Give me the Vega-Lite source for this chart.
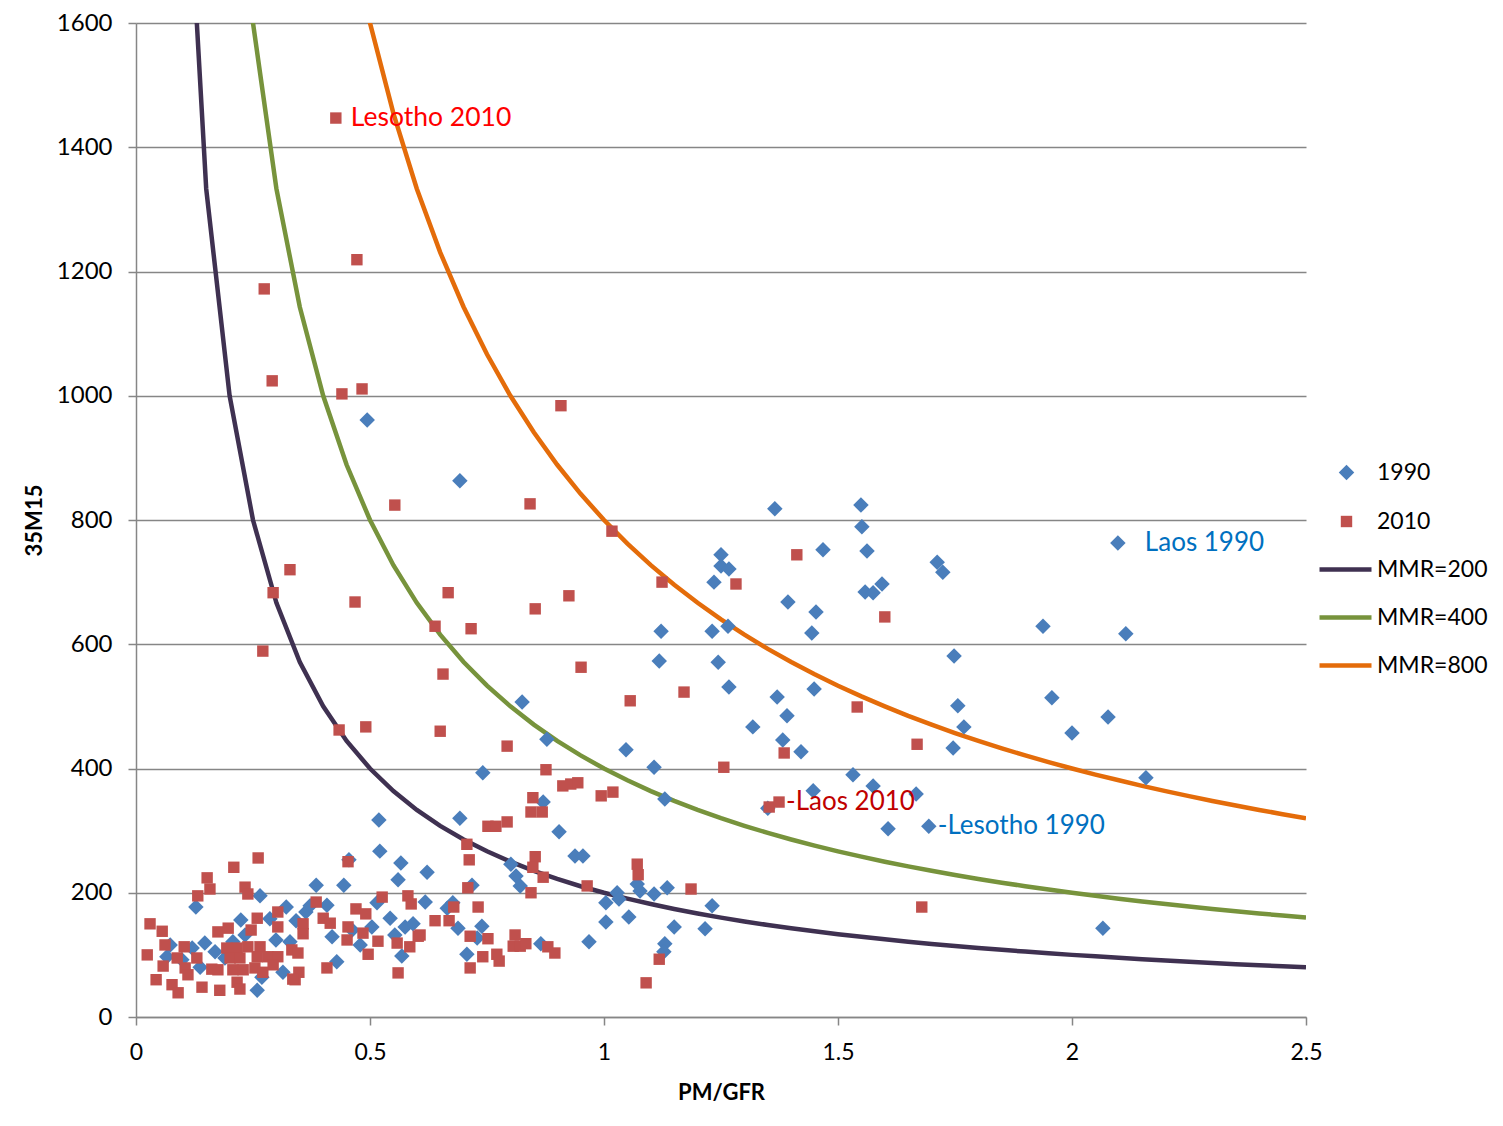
{
  "$schema": "https://vega.github.io/schema/vega-lite/v6.json",
  "width": 1170,
  "height": 994,
  "autosize": {"type": "none"},
  "padding": {"left": 136, "top": 23, "right": 197, "bottom": 109},
  "background": "white",
  "config": {
    "font": "Lato",
    "view": {"stroke": null},
    "axis": {"labelColor": "#000000", "labelFont": "Lato", "titleFont": "Lato", "titleColor": "#000000"}
  },
  "datasets": {
    "pts": [
      {"x":0.494,"y":961,"s":"1990"},{"x":0.692,"y":863,"s":"1990"},{"x":0.825,"y":507,"s":"1990"},{"x":0.878,"y":447,"s":"1990"},
      {"x":0.741,"y":393,"s":"1990"},{"x":0.692,"y":320,"s":"1990"},{"x":0.519,"y":317,"s":"1990"},{"x":0.870,"y":346,"s":"1990"},
      {"x":0.904,"y":298,"s":"1990"},{"x":0.938,"y":259,"s":"1990"},{"x":0.955,"y":259,"s":"1990"},{"x":0.521,"y":267,"s":"1990"},
      {"x":0.455,"y":253,"s":"1990"},{"x":0.566,"y":248,"s":"1990"},{"x":0.622,"y":233,"s":"1990"},{"x":0.385,"y":212,"s":"1990"},
      {"x":0.444,"y":212,"s":"1990"},{"x":0.718,"y":212,"s":"1990"},{"x":0.560,"y":221,"s":"1990"},{"x":0.801,"y":246,"s":"1990"},
      {"x":0.812,"y":227,"s":"1990"},{"x":0.821,"y":211,"s":"1990"},{"x":0.618,"y":185,"s":"1990"},{"x":0.665,"y":175,"s":"1990"},
      {"x":0.677,"y":184,"s":"1990"},{"x":0.688,"y":143,"s":"1990"},{"x":0.739,"y":146,"s":"1990"},{"x":0.707,"y":101,"s":"1990"},
      {"x":0.729,"y":127,"s":"1990"},{"x":0.865,"y":118,"s":"1990"},{"x":0.968,"y":121,"s":"1990"},{"x":1.004,"y":184,"s":"1990"},
      {"x":1.028,"y":200,"s":"1990"},{"x":1.032,"y":190,"s":"1990"},{"x":1.004,"y":153,"s":"1990"},{"x":1.053,"y":161,"s":"1990"},
      {"x":1.071,"y":214,"s":"1990"},{"x":1.077,"y":203,"s":"1990"},{"x":1.107,"y":198,"s":"1990"},{"x":1.135,"y":208,"s":"1990"},
      {"x":1.130,"y":118,"s":"1990"},{"x":1.128,"y":105,"s":"1990"},{"x":1.150,"y":145,"s":"1990"},{"x":1.216,"y":142,"s":"1990"},
      {"x":1.231,"y":179,"s":"1990"},{"x":1.130,"y":351,"s":"1990"},{"x":1.365,"y":818,"s":"1990"},{"x":1.549,"y":824,"s":"1990"},
      {"x":1.551,"y":789,"s":"1990"},{"x":1.562,"y":750,"s":"1990"},{"x":1.468,"y":752,"s":"1990"},{"x":1.250,"y":744,"s":"1990"},
      {"x":1.250,"y":726,"s":"1990"},{"x":1.267,"y":721,"s":"1990"},{"x":1.235,"y":700,"s":"1990"},{"x":1.594,"y":697,"s":"1990"},
      {"x":1.558,"y":684,"s":"1990"},{"x":1.575,"y":683,"s":"1990"},{"x":1.393,"y":668,"s":"1990"},{"x":1.453,"y":652,"s":"1990"},
      {"x":1.444,"y":618,"s":"1990"},{"x":1.712,"y":732,"s":"1990"},{"x":1.724,"y":716,"s":"1990"},{"x":1.265,"y":629,"s":"1990"},
      {"x":1.231,"y":621,"s":"1990"},{"x":1.122,"y":621,"s":"1990"},{"x":1.118,"y":573,"s":"1990"},{"x":1.244,"y":571,"s":"1990"},
      {"x":1.267,"y":531,"s":"1990"},{"x":1.449,"y":528,"s":"1990"},{"x":1.370,"y":515,"s":"1990"},{"x":1.391,"y":485,"s":"1990"},
      {"x":1.318,"y":467,"s":"1990"},{"x":1.382,"y":446,"s":"1990"},{"x":1.421,"y":427,"s":"1990"},{"x":1.047,"y":430,"s":"1990"},
      {"x":1.107,"y":402,"s":"1990"},{"x":1.748,"y":581,"s":"1990"},{"x":1.756,"y":501,"s":"1990"},{"x":1.746,"y":433,"s":"1990"},
      {"x":1.769,"y":467,"s":"1990"},{"x":1.532,"y":390,"s":"1990"},{"x":1.575,"y":372,"s":"1990"},{"x":1.447,"y":364,"s":"1990"},
      {"x":1.667,"y":359,"s":"1990"},{"x":1.350,"y":336,"s":"1990"},{"x":1.607,"y":303,"s":"1990"},{"x":1.694,"y":307,"s":"1990"},
      {"x":2.098,"y":763,"s":"1990"},{"x":1.938,"y":629,"s":"1990"},{"x":2.115,"y":617,"s":"1990"},{"x":1.957,"y":514,"s":"1990"},
      {"x":2.077,"y":483,"s":"1990"},{"x":2.000,"y":457,"s":"1990"},{"x":2.158,"y":385,"s":"1990"},{"x":2.066,"y":143,"s":"1990"},
      {"x":0.073,"y":116,"s":"1990"},{"x":0.128,"y":177,"s":"1990"},{"x":0.265,"y":195,"s":"1990"},{"x":0.321,"y":177,"s":"1990"},
      {"x":0.224,"y":156,"s":"1990"},{"x":0.286,"y":158,"s":"1990"},{"x":0.342,"y":155,"s":"1990"},{"x":0.363,"y":169,"s":"1990"},
      {"x":0.372,"y":179,"s":"1990"},{"x":0.408,"y":180,"s":"1990"},{"x":0.543,"y":159,"s":"1990"},{"x":0.515,"y":184,"s":"1990"},
      {"x":0.575,"y":145,"s":"1990"},{"x":0.592,"y":150,"s":"1990"},{"x":0.419,"y":129,"s":"1990"},{"x":0.504,"y":145,"s":"1990"},
      {"x":0.299,"y":124,"s":"1990"},{"x":0.329,"y":121,"s":"1990"},{"x":0.207,"y":121,"s":"1990"},{"x":0.147,"y":119,"s":"1990"},
      {"x":0.169,"y":105,"s":"1990"},{"x":0.120,"y":111,"s":"1990"},{"x":0.066,"y":97,"s":"1990"},{"x":0.137,"y":80,"s":"1990"},
      {"x":0.314,"y":72,"s":"1990"},{"x":0.269,"y":64,"s":"1990"},{"x":0.259,"y":43,"s":"1990"},{"x":0.429,"y":89,"s":"1990"},
      {"x":0.568,"y":98,"s":"1990"},{"x":0.098,"y":92,"s":"1990"},{"x":0.190,"y":95,"s":"1990"},{"x":0.233,"y":132,"s":"1990"},
      {"x":0.462,"y":140,"s":"1990"},{"x":0.479,"y":116,"s":"1990"},{"x":0.553,"y":132,"s":"1990"},

      {"x":0.427,"y":1447,"s":"2010"},{"x":0.472,"y":1219,"s":"2010"},{"x":0.274,"y":1172,"s":"2010"},{"x":0.291,"y":1024,"s":"2010"},
      {"x":0.440,"y":1003,"s":"2010"},{"x":0.483,"y":1011,"s":"2010"},{"x":0.908,"y":984,"s":"2010"},{"x":0.553,"y":824,"s":"2010"},
      {"x":0.842,"y":826,"s":"2010"},{"x":0.329,"y":720,"s":"2010"},{"x":0.293,"y":683,"s":"2010"},{"x":0.468,"y":668,"s":"2010"},
      {"x":0.667,"y":683,"s":"2010"},{"x":0.639,"y":629,"s":"2010"},{"x":0.716,"y":625,"s":"2010"},{"x":0.853,"y":657,"s":"2010"},
      {"x":0.925,"y":678,"s":"2010"},{"x":0.271,"y":589,"s":"2010"},{"x":0.656,"y":552,"s":"2010"},{"x":0.951,"y":563,"s":"2010"},
      {"x":1.017,"y":782,"s":"2010"},{"x":1.124,"y":700,"s":"2010"},{"x":1.282,"y":697,"s":"2010"},{"x":1.412,"y":744,"s":"2010"},
      {"x":1.600,"y":644,"s":"2010"},{"x":1.056,"y":509,"s":"2010"},{"x":1.171,"y":523,"s":"2010"},{"x":1.541,"y":499,"s":"2010"},
      {"x":1.669,"y":439,"s":"2010"},{"x":1.385,"y":425,"s":"2010"},{"x":1.256,"y":402,"s":"2010"},{"x":0.434,"y":462,"s":"2010"},
      {"x":0.491,"y":467,"s":"2010"},{"x":0.650,"y":460,"s":"2010"},{"x":0.793,"y":436,"s":"2010"},{"x":0.876,"y":398,"s":"2010"},
      {"x":0.912,"y":372,"s":"2010"},{"x":0.929,"y":375,"s":"2010"},{"x":0.944,"y":377,"s":"2010"},{"x":0.994,"y":356,"s":"2010"},
      {"x":1.019,"y":362,"s":"2010"},{"x":1.353,"y":338,"s":"2010"},{"x":1.374,"y":346,"s":"2010"},{"x":1.071,"y":246,"s":"2010"},
      {"x":1.073,"y":229,"s":"2010"},{"x":1.679,"y":177,"s":"2010"},{"x":0.848,"y":353,"s":"2010"},{"x":0.844,"y":330,"s":"2010"},
      {"x":0.868,"y":330,"s":"2010"},{"x":0.752,"y":307,"s":"2010"},{"x":0.769,"y":307,"s":"2010"},{"x":0.793,"y":314,"s":"2010"},
      {"x":0.707,"y":278,"s":"2010"},{"x":0.712,"y":253,"s":"2010"},{"x":0.853,"y":258,"s":"2010"},{"x":0.848,"y":241,"s":"2010"},
      {"x":0.870,"y":225,"s":"2010"},{"x":0.964,"y":211,"s":"2010"},{"x":0.709,"y":208,"s":"2010"},{"x":0.844,"y":200,"s":"2010"},
      {"x":1.186,"y":206,"s":"2010"},{"x":0.679,"y":177,"s":"2010"},{"x":0.731,"y":177,"s":"2010"},{"x":0.639,"y":155,"s":"2010"},
      {"x":0.669,"y":155,"s":"2010"},{"x":0.714,"y":130,"s":"2010"},{"x":0.752,"y":126,"s":"2010"},{"x":0.810,"y":132,"s":"2010"},
      {"x":0.806,"y":114,"s":"2010"},{"x":0.821,"y":114,"s":"2010"},{"x":0.833,"y":118,"s":"2010"},{"x":0.880,"y":113,"s":"2010"},
      {"x":0.895,"y":103,"s":"2010"},{"x":0.741,"y":97,"s":"2010"},{"x":0.771,"y":101,"s":"2010"},{"x":0.776,"y":90,"s":"2010"},
      {"x":0.714,"y":79,"s":"2010"},{"x":1.118,"y":93,"s":"2010"},{"x":1.090,"y":55,"s":"2010"},{"x":0.607,"y":132,"s":"2010"},
      {"x":0.261,"y":256,"s":"2010"},{"x":0.209,"y":241,"s":"2010"},{"x":0.152,"y":224,"s":"2010"},{"x":0.158,"y":206,"s":"2010"},
      {"x":0.132,"y":195,"s":"2010"},{"x":0.233,"y":209,"s":"2010"},{"x":0.239,"y":198,"s":"2010"},{"x":0.030,"y":150,"s":"2010"},
      {"x":0.056,"y":138,"s":"2010"},{"x":0.024,"y":100,"s":"2010"},{"x":0.385,"y":185,"s":"2010"},{"x":0.303,"y":169,"s":"2010"},
      {"x":0.259,"y":159,"s":"2010"},{"x":0.175,"y":137,"s":"2010"},{"x":0.197,"y":143,"s":"2010"},{"x":0.246,"y":140,"s":"2010"},
      {"x":0.303,"y":145,"s":"2010"},{"x":0.357,"y":150,"s":"2010"},{"x":0.357,"y":134,"s":"2010"},{"x":0.400,"y":159,"s":"2010"},
      {"x":0.415,"y":151,"s":"2010"},{"x":0.453,"y":250,"s":"2010"},{"x":0.526,"y":193,"s":"2010"},{"x":0.581,"y":195,"s":"2010"},
      {"x":0.588,"y":182,"s":"2010"},{"x":0.470,"y":174,"s":"2010"},{"x":0.491,"y":166,"s":"2010"},{"x":0.453,"y":145,"s":"2010"},
      {"x":0.485,"y":135,"s":"2010"},{"x":0.603,"y":130,"s":"2010"},{"x":0.451,"y":124,"s":"2010"},{"x":0.517,"y":122,"s":"2010"},
      {"x":0.558,"y":119,"s":"2010"},{"x":0.585,"y":113,"s":"2010"},{"x":0.496,"y":101,"s":"2010"},{"x":0.560,"y":71,"s":"2010"},
      {"x":0.408,"y":79,"s":"2010"},{"x":0.348,"y":72,"s":"2010"},{"x":0.340,"y":60,"s":"2010"},{"x":0.103,"y":113,"s":"2010"},
      {"x":0.088,"y":95,"s":"2010"},{"x":0.058,"y":82,"s":"2010"},{"x":0.043,"y":60,"s":"2010"},{"x":0.077,"y":52,"s":"2010"},
      {"x":0.090,"y":39,"s":"2010"},{"x":0.105,"y":79,"s":"2010"},{"x":0.130,"y":95,"s":"2010"},{"x":0.141,"y":48,"s":"2010"},
      {"x":0.162,"y":77,"s":"2010"},{"x":0.175,"y":76,"s":"2010"},{"x":0.179,"y":43,"s":"2010"},{"x":0.194,"y":111,"s":"2010"},
      {"x":0.216,"y":111,"s":"2010"},{"x":0.239,"y":113,"s":"2010"},{"x":0.265,"y":113,"s":"2010"},{"x":0.201,"y":95,"s":"2010"},
      {"x":0.222,"y":95,"s":"2010"},{"x":0.259,"y":97,"s":"2010"},{"x":0.282,"y":97,"s":"2010"},{"x":0.303,"y":97,"s":"2010"},
      {"x":0.207,"y":76,"s":"2010"},{"x":0.229,"y":76,"s":"2010"},{"x":0.254,"y":79,"s":"2010"},{"x":0.271,"y":72,"s":"2010"},
      {"x":0.293,"y":84,"s":"2010"},{"x":0.216,"y":56,"s":"2010"},{"x":0.222,"y":45,"s":"2010"},{"x":0.333,"y":108,"s":"2010"},
      {"x":0.346,"y":103,"s":"2010"},{"x":0.335,"y":61,"s":"2010"},{"x":0.062,"y":116,"s":"2010"},{"x":0.111,"y":68,"s":"2010"}
    ],
    "curves": [
      {"x":0.1,"y":2000,"c":"MMR=200"},{"x":0.15,"y":1333.3,"c":"MMR=200"},{"x":0.2,"y":1000,"c":"MMR=200"},{"x":0.25,"y":800,"c":"MMR=200"},
      {"x":0.3,"y":666.7,"c":"MMR=200"},{"x":0.35,"y":571.4,"c":"MMR=200"},{"x":0.4,"y":500,"c":"MMR=200"},{"x":0.45,"y":444.4,"c":"MMR=200"},
      {"x":0.5,"y":400,"c":"MMR=200"},{"x":0.55,"y":363.6,"c":"MMR=200"},{"x":0.6,"y":333.3,"c":"MMR=200"},{"x":0.65,"y":307.7,"c":"MMR=200"},
      {"x":0.7,"y":285.7,"c":"MMR=200"},{"x":0.75,"y":266.7,"c":"MMR=200"},{"x":0.8,"y":250,"c":"MMR=200"},{"x":0.85,"y":235.3,"c":"MMR=200"},
      {"x":0.9,"y":222.2,"c":"MMR=200"},{"x":0.95,"y":210.5,"c":"MMR=200"},{"x":1.0,"y":200,"c":"MMR=200"},{"x":1.05,"y":190.5,"c":"MMR=200"},
      {"x":1.1,"y":181.8,"c":"MMR=200"},{"x":1.15,"y":173.9,"c":"MMR=200"},{"x":1.2,"y":166.7,"c":"MMR=200"},{"x":1.25,"y":160,"c":"MMR=200"},
      {"x":1.3,"y":153.8,"c":"MMR=200"},{"x":1.35,"y":148.1,"c":"MMR=200"},{"x":1.4,"y":142.9,"c":"MMR=200"},{"x":1.45,"y":137.9,"c":"MMR=200"},
      {"x":1.5,"y":133.3,"c":"MMR=200"},{"x":1.55,"y":129.0,"c":"MMR=200"},{"x":1.6,"y":125,"c":"MMR=200"},{"x":1.65,"y":121.2,"c":"MMR=200"},
      {"x":1.7,"y":117.6,"c":"MMR=200"},{"x":1.75,"y":114.3,"c":"MMR=200"},{"x":1.8,"y":111.1,"c":"MMR=200"},{"x":1.85,"y":108.1,"c":"MMR=200"},
      {"x":1.9,"y":105.3,"c":"MMR=200"},{"x":1.95,"y":102.6,"c":"MMR=200"},{"x":2.0,"y":100,"c":"MMR=200"},{"x":2.05,"y":97.6,"c":"MMR=200"},
      {"x":2.1,"y":95.2,"c":"MMR=200"},{"x":2.15,"y":93.0,"c":"MMR=200"},{"x":2.2,"y":90.9,"c":"MMR=200"},{"x":2.25,"y":88.9,"c":"MMR=200"},
      {"x":2.3,"y":87.0,"c":"MMR=200"},{"x":2.35,"y":85.1,"c":"MMR=200"},{"x":2.4,"y":83.3,"c":"MMR=200"},{"x":2.45,"y":81.6,"c":"MMR=200"},
      {"x":2.5,"y":80,"c":"MMR=200"},
      {"x":0.2,"y":2000,"c":"MMR=400"},{"x":0.25,"y":1600,"c":"MMR=400"},{"x":0.3,"y":1333.3,"c":"MMR=400"},{"x":0.35,"y":1142.9,"c":"MMR=400"},
      {"x":0.4,"y":1000,"c":"MMR=400"},{"x":0.45,"y":888.9,"c":"MMR=400"},{"x":0.5,"y":800,"c":"MMR=400"},{"x":0.55,"y":727.3,"c":"MMR=400"},
      {"x":0.6,"y":666.7,"c":"MMR=400"},{"x":0.65,"y":615.4,"c":"MMR=400"},{"x":0.7,"y":571.4,"c":"MMR=400"},{"x":0.75,"y":533.3,"c":"MMR=400"},
      {"x":0.8,"y":500,"c":"MMR=400"},{"x":0.85,"y":470.6,"c":"MMR=400"},{"x":0.9,"y":444.4,"c":"MMR=400"},{"x":0.95,"y":421.1,"c":"MMR=400"},
      {"x":1.0,"y":400,"c":"MMR=400"},{"x":1.05,"y":381.0,"c":"MMR=400"},{"x":1.1,"y":363.6,"c":"MMR=400"},{"x":1.15,"y":347.8,"c":"MMR=400"},
      {"x":1.2,"y":333.3,"c":"MMR=400"},{"x":1.25,"y":320,"c":"MMR=400"},{"x":1.3,"y":307.7,"c":"MMR=400"},{"x":1.35,"y":296.3,"c":"MMR=400"},
      {"x":1.4,"y":285.7,"c":"MMR=400"},{"x":1.45,"y":275.9,"c":"MMR=400"},{"x":1.5,"y":266.7,"c":"MMR=400"},{"x":1.55,"y":258.1,"c":"MMR=400"},
      {"x":1.6,"y":250,"c":"MMR=400"},{"x":1.65,"y":242.4,"c":"MMR=400"},{"x":1.7,"y":235.3,"c":"MMR=400"},{"x":1.75,"y":228.6,"c":"MMR=400"},
      {"x":1.8,"y":222.2,"c":"MMR=400"},{"x":1.85,"y":216.2,"c":"MMR=400"},{"x":1.9,"y":210.5,"c":"MMR=400"},{"x":1.95,"y":205.1,"c":"MMR=400"},
      {"x":2.0,"y":200,"c":"MMR=400"},{"x":2.05,"y":195.1,"c":"MMR=400"},{"x":2.1,"y":190.5,"c":"MMR=400"},{"x":2.15,"y":186.0,"c":"MMR=400"},
      {"x":2.2,"y":181.8,"c":"MMR=400"},{"x":2.25,"y":177.8,"c":"MMR=400"},{"x":2.3,"y":173.9,"c":"MMR=400"},{"x":2.35,"y":170.2,"c":"MMR=400"},
      {"x":2.4,"y":166.7,"c":"MMR=400"},{"x":2.45,"y":163.3,"c":"MMR=400"},{"x":2.5,"y":160,"c":"MMR=400"},
      {"x":0.45,"y":1777.8,"c":"MMR=800"},{"x":0.5,"y":1600,"c":"MMR=800"},{"x":0.55,"y":1454.5,"c":"MMR=800"},{"x":0.6,"y":1333.3,"c":"MMR=800"},
      {"x":0.65,"y":1230.8,"c":"MMR=800"},{"x":0.7,"y":1142.9,"c":"MMR=800"},{"x":0.75,"y":1066.7,"c":"MMR=800"},{"x":0.8,"y":1000,"c":"MMR=800"},
      {"x":0.85,"y":941.2,"c":"MMR=800"},{"x":0.9,"y":888.9,"c":"MMR=800"},{"x":0.95,"y":842.1,"c":"MMR=800"},{"x":1.0,"y":800,"c":"MMR=800"},
      {"x":1.05,"y":761.9,"c":"MMR=800"},{"x":1.1,"y":727.3,"c":"MMR=800"},{"x":1.15,"y":695.7,"c":"MMR=800"},{"x":1.2,"y":666.7,"c":"MMR=800"},
      {"x":1.25,"y":640,"c":"MMR=800"},{"x":1.3,"y":615.4,"c":"MMR=800"},{"x":1.35,"y":592.6,"c":"MMR=800"},{"x":1.4,"y":571.4,"c":"MMR=800"},
      {"x":1.45,"y":551.7,"c":"MMR=800"},{"x":1.5,"y":533.3,"c":"MMR=800"},{"x":1.55,"y":516.1,"c":"MMR=800"},{"x":1.6,"y":500,"c":"MMR=800"},
      {"x":1.65,"y":484.8,"c":"MMR=800"},{"x":1.7,"y":470.6,"c":"MMR=800"},{"x":1.75,"y":457.1,"c":"MMR=800"},{"x":1.8,"y":444.4,"c":"MMR=800"},
      {"x":1.85,"y":432.4,"c":"MMR=800"},{"x":1.9,"y":421.1,"c":"MMR=800"},{"x":1.95,"y":410.3,"c":"MMR=800"},{"x":2.0,"y":400,"c":"MMR=800"},
      {"x":2.05,"y":390.2,"c":"MMR=800"},{"x":2.1,"y":381.0,"c":"MMR=800"},{"x":2.15,"y":372.1,"c":"MMR=800"},{"x":2.2,"y":363.6,"c":"MMR=800"},
      {"x":2.25,"y":355.6,"c":"MMR=800"},{"x":2.3,"y":347.8,"c":"MMR=800"},{"x":2.35,"y":340.4,"c":"MMR=800"},{"x":2.4,"y":333.3,"c":"MMR=800"},
      {"x":2.45,"y":326.5,"c":"MMR=800"},{"x":2.5,"y":320,"c":"MMR=800"}
    ],
    "labels": [
      {"x":0.427,"y":1447,"label":"Lesotho 2010","k":"a"},
      {"x":2.098,"y":763,"label":"Laos 1990","k":"b"},
      {"x":1.374,"y":346,"label":"-Laos 2010","k":"c"},
      {"x":1.694,"y":307,"label":"-Lesotho 1990","k":"d"}
    ]
  },
  "encoding": {
    "x": {"field": "x", "type": "quantitative",
      "scale": {"domain": [0, 2.5], "nice": false, "zero": false},
      "axis": {"title": "PM/GFR", "values": [0, 0.5, 1, 1.5, 2, 2.5], "format": "~g",
        "grid": false, "domainColor": "#868686", "domainWidth": 1.5, "tickColor": "#868686", "tickWidth": 1.5, "tickSize": 8,
        "labelFontSize": 23, "labelPadding": 16, "labelFlush": false,
        "titleFontSize": 22, "titleFontWeight": "bold", "titlePadding": 18}},
    "y": {"field": "y", "type": "quantitative",
      "scale": {"domain": [0, 1600], "nice": false, "zero": false},
      "axis": {"title": "35M15", "values": [0, 200, 400, 600, 800, 1000, 1200, 1400, 1600], "format": "d",
        "grid": true, "gridColor": "#868686", "gridWidth": 1.5, "domainColor": "#868686", "domainWidth": 1.5,
        "tickColor": "#868686", "tickWidth": 1.5, "tickSize": 8,
        "labelFontSize": 24, "labelPadding": 16, "labelFlush": false,
        "titleFontSize": 22, "titleFontWeight": "bold", "titlePadding": 10}}
  },
  "layer": [
    {
      "data": {"name": "curves"},
      "mark": {"type": "line", "strokeWidth": 4.5, "clip": true},
      "encoding": {
        "stroke": {"field": "c", "type": "nominal",
          "scale": {"domain": ["MMR=200", "MMR=400", "MMR=800"], "range": ["#3F3151", "#77933C", "#E46C0A"]},
          "legend": {"title": null, "orient": "none", "legendX": 1181, "legendY": 518, "padding": 0,
            "symbolType": "stroke", "symbolSize": 2704, "symbolStrokeWidth": 4.5,
            "labelFontSize": 23, "labelColor": "#000000", "labelOffset": 3, "rowPadding": 7}}
      }
    },
    {
      "data": {"name": "pts"},
      "mark": {"type": "point", "filled": true, "opacity": 1},
      "encoding": {
        "color": {"field": "s", "type": "nominal",
          "scale": {"domain": ["1990", "2010"], "range": ["#4A7EBB", "#C0504D"]},
          "legend": {"title": null, "orient": "none", "legendX": 1199, "legendY": 438, "padding": 0,
            "labelFontSize": 23, "labelColor": "#000000", "labelOffset": 19, "rowPadding": 25}},
        "shape": {"field": "s", "type": "nominal",
          "scale": {"domain": ["1990", "2010"], "range": ["diamond", "square"]}},
        "size": {"field": "s", "type": "nominal",
          "scale": {"domain": ["1990", "2010"], "range": [240, 130]}, "legend": null}
      }
    },
    {
      "data": {"name": "labels"},
      "transform": [{"filter": "datum.k == 'a'"}],
      "mark": {"type": "text", "align": "left", "baseline": "middle", "dx": 15, "fontSize": 26.5, "color": "#FF0000", "font": "Lato"},
      "encoding": {"text": {"field": "label"}}
    },
    {
      "data": {"name": "labels"},
      "transform": [{"filter": "datum.k == 'b'"}],
      "mark": {"type": "text", "align": "left", "baseline": "middle", "dx": 27, "fontSize": 26, "color": "#0070C0", "font": "Lato"},
      "encoding": {"text": {"field": "label"}}
    },
    {
      "data": {"name": "labels"},
      "transform": [{"filter": "datum.k == 'c'"}],
      "mark": {"type": "text", "align": "left", "baseline": "middle", "dx": 7, "fontSize": 26, "color": "#C00000", "font": "Lato"},
      "encoding": {"text": {"field": "label"}}
    },
    {
      "data": {"name": "labels"},
      "transform": [{"filter": "datum.k == 'd'"}],
      "mark": {"type": "text", "align": "left", "baseline": "middle", "dx": 9, "fontSize": 26, "color": "#0070C0", "font": "Lato"},
      "encoding": {"text": {"field": "label"}}
    }
  ]
}
